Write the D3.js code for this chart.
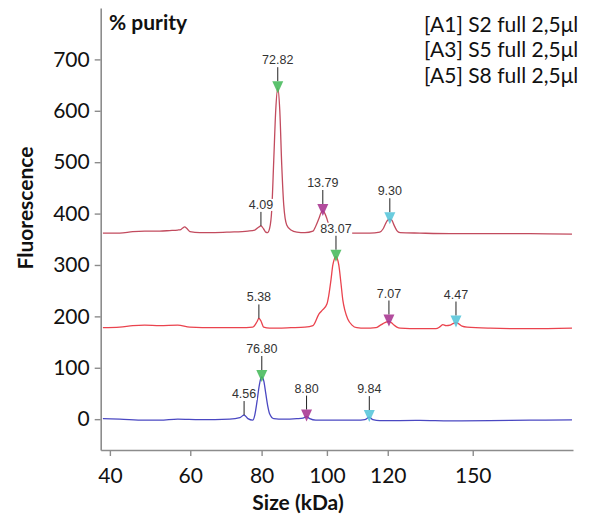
<!DOCTYPE html>
<html>
<head>
<meta charset="utf-8">
<script src="https://cdn.jsdelivr.net/npm/d3@7"></script>
<style>
  html, body { margin: 0; padding: 0; background: #fff; }
  svg { display: block; }
</style>
</head>
<body>
<svg id="chart" width="594" height="519"></svg>
<script>
// Capillary electrophoresis traces: size (kDa) vs fluorescence, three samples stacked.
const sizeTicks = [40, 60, 80, 100, 120, 150];
const fluorTicks = [0, 100, 200, 300, 400, 500, 600, 700];
const sampleNames = ["[A1] S2 full 2,5μl", "[A3] S5 full 2,5μl", "[A5] S8 full 2,5μl"];

// [size kDa, fluorescence]
const traceA1 = [
  [38.4, 362], [42.3, 362], [45.4, 365], [48.3, 366], [52.1, 366], [54.6, 367],
  [56.7, 368], [57.5, 369], [58.0, 372], [58.5, 374], [59.1, 371], [59.9, 365],
  [62.6, 363], [66.6, 363], [70.8, 364], [76.0, 366], [78.0, 368], [79.2, 374],
  [79.8, 376], [80.6, 370], [81.2, 364], [81.8, 363], [82.4, 372], [83.0, 407],
  [83.6, 504], [84.2, 602], [84.8, 644], [85.4, 602], [86.0, 494], [86.6, 417],
  [87.5, 378], [88.8, 368], [90.6, 364], [93.1, 363], [95.6, 366], [96.5, 376],
  [97.5, 391], [98.1, 401], [98.7, 405], [99.3, 401], [100.0, 390], [100.6, 378],
  [101.9, 366], [103.8, 362], [108.1, 362], [114.0, 362], [117.3, 364], [118.4, 370],
  [119.4, 382], [120.1, 388], [120.7, 389], [121.4, 387], [122.1, 378], [123.1, 367],
  [124.2, 363], [131.1, 362], [141.8, 361], [156.4, 361], [171.5, 361], [187.9, 360]
];
const traceA3 = [
  [38.4, 178], [42.3, 179], [45.4, 182], [48.3, 183], [52.1, 182], [56.7, 183],
  [59.9, 179], [66.6, 178], [73.7, 178], [77.4, 179], [78.6, 189], [79.2, 196],
  [79.8, 191], [80.6, 179], [82.4, 177], [88.8, 178], [93.1, 179], [95.6, 182],
  [97.5, 205], [98.7, 213], [100.0, 224], [100.6, 241], [101.3, 271], [101.9, 300],
  [102.9, 316], [103.8, 300], [104.5, 265], [105.1, 232], [105.8, 211], [106.7, 195],
  [108.1, 183], [109.7, 178], [112.3, 177], [116.0, 178], [117.3, 182], [118.4, 186],
  [119.4, 189], [120.4, 190], [121.4, 187], [122.1, 183], [123.1, 179], [124.2, 177],
  [131.1, 176], [136.7, 176], [138.2, 180], [139.2, 184], [140.3, 182], [141.8, 183],
  [142.8, 186], [143.9, 188], [145.0, 185], [146.1, 181], [147.9, 179], [156.4, 177],
  [171.5, 176], [187.9, 177]
];
const traceA5 = [
  [38.4, 1], [42.3, 0], [48.3, -2], [52.1, -2], [56.7, 0], [62.6, -1],
  [70.8, 0], [73.7, 3], [74.9, 8], [76.0, 1], [77.4, -2], [78.0, 8],
  [78.6, 32], [79.2, 61], [79.8, 80], [80.05, 82], [80.65, 74], [81.2, 51],
  [81.8, 26], [82.4, 10], [83.6, 1], [86.6, 0], [90.6, 1], [92.5, 2],
  [93.6, 5], [94.6, 1], [96.5, -2], [103.8, -2], [109.7, -2], [112.3, -1],
  [113.8, 4], [115.0, -1], [117.3, -3], [131.1, -2.5], [141.8, -3.5], [156.4, -3],
  [171.5, -2], [187.9, -1.5]
];

// Integrated peaks: position (kDa), % purity, marker kind
const peaksA1 = [
  { kda: 79.8, purity: "4.09", marker: null },
  { kda: 84.8, purity: "72.82", marker: "main" },
  { kda: 98.7, purity: "13.79", marker: "upper" },
  { kda: 120.7, purity: "9.30", marker: "high" }
];
const peaksA3 = [
  { kda: 79.2, purity: "5.38", marker: null },
  { kda: 102.9, purity: "83.07", marker: "main" },
  { kda: 120.4, purity: "7.07", marker: "upper" },
  { kda: 143.9, purity: "4.47", marker: "high" }
];
const peaksA5 = [
  { kda: 74.9, purity: "4.56", marker: null },
  { kda: 80.05, purity: "76.80", marker: "main" },
  { kda: 93.6, purity: "8.80", marker: "upper" },
  { kda: 113.8, purity: "9.84", marker: "high" }
];

const svg = d3.select("#chart");

const x = d3.scalePow().exponent(0.65).domain([37.9, 188.3]).range([100.7, 573]);
const y = d3.scaleLinear().domain([-60, 800]).range([450, 8]);

const markerColor = { main: "#45b95a", upper: "#a7338f", high: "#55c5d9" };
const traces = [
  { data: traceA1, peaks: peaksA1, color: "#c24b5e" },
  { data: traceA3, peaks: peaksA3, color: "#ea434e" },
  { data: traceA5, peaks: peaksA5, color: "#4a48c2" }
];

const uiFont = "Lato, sans-serif";

// Axes
const axisColor = "#8c8c8c";
const yAxis = svg.append("g")
  .attr("transform", `translate(${x.range()[0]},0)`)
  .call(d3.axisLeft(y).tickValues(fluorTicks).tickSize(6).tickSizeOuter(0).tickPadding(5));
const xAxis = svg.append("g")
  .attr("transform", `translate(0,${y.range()[0]})`)
  .call(d3.axisBottom(x).tickValues(sizeTicks).tickFormat(d3.format("d")).tickSize(6).tickSizeOuter(0).tickPadding(12));

[yAxis, xAxis].forEach(g => {
  g.select(".domain").attr("stroke", axisColor).attr("stroke-width", 1.6);
  g.selectAll(".tick line").attr("stroke", axisColor).attr("stroke-width", 1.4);
  g.selectAll(".tick text")
    .attr("fill", "#111")
    .style("font-family", uiFont)
    .style("font-size", "21px");
});

// Axis titles
svg.append("text")
  .attr("transform", "translate(33,208) rotate(-90)")
  .attr("text-anchor", "middle")
  .style("font-family", uiFont)
  .style("font-weight", "bold")
  .style("font-size", "21px")
  .attr("fill", "#111")
  .text("Fluorescence");

svg.append("text")
  .attr("x", 298).attr("y", 510)
  .attr("text-anchor", "middle")
  .style("font-family", uiFont)
  .style("font-weight", "bold")
  .style("font-size", "21px")
  .attr("fill", "#111")
  .text("Size (kDa)");

svg.append("text")
  .attr("x", 109).attr("y", 29.5)
  .style("font-family", uiFont)
  .style("font-weight", "bold")
  .style("font-size", "21px")
  .attr("fill", "#111")
  .text("% purity");

// Sample legend
svg.append("g").selectAll("text")
  .data(sampleNames)
  .join("text")
  .attr("x", 424)
  .attr("y", (d, i) => 31.5 + i * 25.9)
  .style("font-family", uiFont)
  .style("font-size", "21px")
  .attr("fill", "#111")
  .text(d => d);

// Traces
const line = d3.line()
  .x(d => x(d[0]))
  .y(d => y(d[1]))
  .curve(d3.curveMonotoneX);

svg.append("g").selectAll("path")
  .data(traces)
  .join("path")
  .attr("d", d => line(d.data))
  .attr("fill", "none")
  .attr("stroke", d => d.color)
  .attr("stroke-width", 1.3)
  .attr("stroke-linejoin", "round");

// Peak annotations
const heightAt = (data, kda) => d3.least(data, d => Math.abs(d[0] - kda))[1];
const tri = "M-5.5,-7 L5.5,-7 L0,5 Z";
const annot = svg.append("g");

traces.forEach(t => {
  t.peaks.forEach(p => {
    const px = x(p.kda);
    const py = y(heightAt(t.data, p.kda));
    const stemBottom = p.marker ? py - 7 : py;
    const stemTop = stemBottom - 14;

    const label = annot.append("text")
      .attr("x", px)
      .attr("y", stemTop - 3)
      .attr("text-anchor", "middle")
      .style("font-family", "Arial, 'Liberation Sans', sans-serif")
      .style("font-size", "12.5px")
      .attr("fill", "#333")
      .text(p.purity);
    const bb = label.node().getBBox();
    annot.insert("rect", () => label.node())
      .attr("x", bb.x - 0.5).attr("y", bb.y + 1)
      .attr("width", bb.width + 1).attr("height", bb.height - 2)
      .attr("fill", "#fff");

    annot.append("line")
      .attr("x1", px).attr("x2", px)
      .attr("y1", stemTop).attr("y2", stemBottom)
      .attr("stroke", "#222")
      .attr("stroke-width", 1);

    if (p.marker) {
      annot.append("path")
        .attr("d", tri)
        .attr("transform", `translate(${px},${py})`)
        .attr("fill", markerColor[p.marker])
        .attr("fill-opacity", 0.88);
    }
  });
});
</script>
</body>
</html>
